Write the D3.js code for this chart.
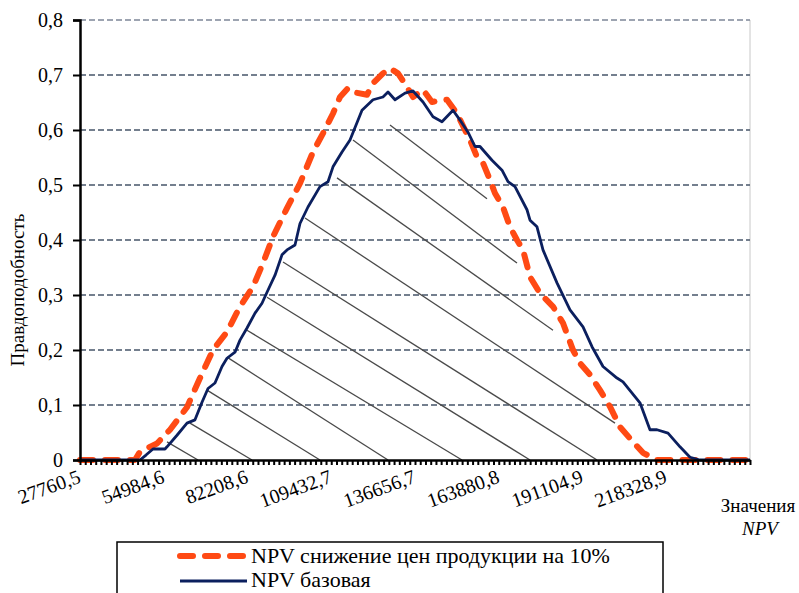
<!DOCTYPE html>
<html>
<head>
<meta charset="utf-8">
<script src="https://cdn.jsdelivr.net/npm/d3@7"></script>
<style>
  body { margin: 0; background: #fff; }
  svg text { font-family: "Liberation Serif", "Times New Roman", "DejaVu Serif", serif; }
</style>
</head>
<body>
<svg id="svg"></svg>
<script>
const svgWidth = 799;
const svgHeight = 593;

// x tick labels (category axis, one label every 16 bins)
const tickValues = [27760.5, 54984.6, 82208.6, 109432.7, 136656.7, 163880.8, 191104.9, 218328.9];
const tickLabels = ["27760,5", "54984,6", "82208,6", "109432,7", "136656,7", "163880,8", "191104,9", "218328,9"];
const xMin = 27760.5;
const xMax = 245553;
const binCount = 128;

const yTicks = [0, 0.1, 0.2, 0.3, 0.4, 0.5, 0.6, 0.7, 0.8];

// NPV снижение цен продукции на 10%
const lowNpv = [27760, 45640, 47260, 52790, 57020, 62540, 66770, 70990, 75540, 79770, 84000, 87250, 90500, 95050, 99270, 103500, 106750, 110000, 112280, 114880, 116500, 121050, 123000, 126250, 128530, 131130, 134060, 136010, 139260, 142180, 147060, 150310, 152910, 154530, 156810, 158760, 161040, 162660, 165260, 167540, 169810, 171760, 174040, 177290, 181510, 184760, 188010, 190290, 193540, 196790, 200040, 203290, 207520, 210770, 215320, 245550];
const lowProb = [0, 0, 0.015, 0.03, 0.055, 0.096, 0.149, 0.2, 0.233, 0.279, 0.315, 0.358, 0.406, 0.458, 0.503, 0.56, 0.594, 0.63, 0.66, 0.676, 0.669, 0.664, 0.685, 0.703, 0.712, 0.703, 0.678, 0.66, 0.673, 0.651, 0.655, 0.63, 0.6, 0.582, 0.551, 0.54, 0.509, 0.485, 0.46, 0.424, 0.4, 0.382, 0.333, 0.303, 0.279, 0.249, 0.2, 0.176, 0.155, 0.127, 0.097, 0.06, 0.033, 0.013, 0, 0];

// NPV базовая
const baseNpv = [27760, 47260, 49215, 51490, 55390, 56040, 59290, 62540, 65140, 67420, 69370, 71640, 73920, 75540, 78140, 79770, 82050, 84650, 86920, 88550, 91150, 93420, 95050, 97650, 99270, 101870, 105770, 108380, 110000, 112930, 115530, 119430, 123000, 126250, 127880, 130150, 133400, 136010, 139260, 142510, 145430, 149010, 151280, 153880, 156160, 157780, 161690, 164940, 166890, 169160, 173060, 174040, 176310, 178260, 182810, 187040, 191270, 194190, 197770, 202320, 204270, 209790, 213040, 215320, 218900, 222800, 226050, 229300, 245550];
const baseProb = [0, 0, 0.009, 0.02, 0.02, 0.024, 0.045, 0.067, 0.073, 0.105, 0.13, 0.14, 0.17, 0.185, 0.196, 0.218, 0.24, 0.267, 0.285, 0.305, 0.336, 0.373, 0.382, 0.391, 0.43, 0.46, 0.497, 0.506, 0.533, 0.56, 0.582, 0.636, 0.655, 0.66, 0.669, 0.655, 0.667, 0.671, 0.651, 0.624, 0.615, 0.636, 0.618, 0.596, 0.57, 0.57, 0.545, 0.527, 0.506, 0.497, 0.455, 0.436, 0.424, 0.382, 0.322, 0.273, 0.242, 0.206, 0.17, 0.149, 0.142, 0.104, 0.055, 0.055, 0.049, 0.024, 0.005, 0, 0];

// hatch strokes over the area under the curve: [npvStart, probStart, npvEnd, probEnd]
const hatch = [
  [128530, 0.609, 160060, 0.475],
  [116500, 0.582, 169810, 0.358],
  [111300, 0.513, 181510, 0.236],
  [100900, 0.440, 201670, 0.067],
  [93750, 0.360, 195820, 0],
  [88550, 0.296, 174040, 0],
  [82050, 0.236, 151930, 0],
  [75540, 0.187, 127880, 0],
  [69040, 0.127, 105770, 0],
  [63520, 0.067, 83670, 0],
  [56040, 0.033, 66120, 0]
];

const legendItems = ["NPV снижение цен продукции на 10%", "NPV базовая"];

let svg = d3.select("#svg");
let chart, xScale, yScale;

const margin = { top: 20, right: 49, bottom: 133, left: 80 };
const chartWidth = svgWidth - margin.left - margin.right;
const chartHeight = svgHeight - margin.top - margin.bottom;

function initializeSVG() {
  svg.attr("width", svgWidth).attr("height", svgHeight);
  svg.selectAll("*").remove();

  chart = svg.append("g")
    .attr("transform", "translate(" + margin.left + "," + margin.top + ")");

  xScale = d3.scaleLinear().domain([xMin, xMax]).range([0, chartWidth]);
  yScale = d3.scaleLinear().domain([0, 0.8]).range([chartHeight, 0]);
}

function drawGrid() {
  // right border of the plot
  chart.append("line")
    .attr("x1", chartWidth).attr("x2", chartWidth)
    .attr("y1", 0).attr("y2", chartHeight)
    .attr("stroke", "#c8c8c8").attr("stroke-width", 1);

  chart.selectAll(".grid")
    .data(yTicks.slice(1))
    .join("line")
    .attr("class", "grid")
    .attr("x1", 0).attr("x2", chartWidth)
    .attr("y1", d => yScale(d)).attr("y2", d => yScale(d))
    .attr("stroke", d => d === 0.8 ? "#7d8798" : "#475569")
    .attr("stroke-width", 1.6)
    .attr("stroke-dasharray", "6 3");
}

function drawHatch() {
  chart.selectAll(".hatch")
    .data(hatch)
    .join("line")
    .attr("class", "hatch")
    .attr("x1", d => xScale(d[0])).attr("y1", d => yScale(d[1]))
    .attr("x2", d => xScale(d[2])).attr("y2", d => yScale(d[3]))
    .attr("stroke", "#4a4a4a")
    .attr("stroke-width", 1.3);
}

function drawAxes() {
  // y axis
  const yAxis = d3.axisLeft(yScale)
    .tickValues(yTicks)
    .tickSize(7)
    .tickFormat(d => d === 0 ? "0" : d3.format(".1f")(d).replace(".", ","));
  const gy = chart.append("g").call(yAxis);
  gy.select(".domain").attr("stroke", "#000").attr("stroke-width", 2.5);
  gy.selectAll(".tick line").attr("stroke", "#000").attr("stroke-width", 2);
  gy.selectAll(".tick text")
    .attr("x", -17)
    .attr("font-size", 20)
    .attr("fill", "#000");

  // x axis: a tick for each bin
  const binStep = (xMax - xMin) / binCount;
  const binEdges = d3.range(binCount + 1).map(i => xMin + i * binStep);
  const xAxis = d3.axisBottom(xScale)
    .tickValues(binEdges)
    .tickSize(5)
    .tickSizeOuter(0)
    .tickFormat("");
  const gx = chart.append("g")
    .attr("transform", "translate(0," + chartHeight + ")")
    .call(xAxis);
  gx.select(".domain").attr("stroke", "#000").attr("stroke-width", 2.5);
  gx.selectAll(".tick line").attr("stroke", "#000").attr("stroke-width", 2);

  chart.selectAll(".xlabel")
    .data(tickValues)
    .join("text")
    .attr("class", "xlabel")
    .attr("transform", (d, i) => "translate(" + (xScale(d) + 2) + "," + (chartHeight + 22) + ") rotate(-20)")
    .attr("text-anchor", "end")
    .attr("font-size", 20)
    .attr("fill", "#000")
    .text((d, i) => tickLabels[i]);

  // axis titles
  svg.append("text")
    .attr("transform", "translate(24,290) rotate(-90)")
    .attr("text-anchor", "middle")
    .attr("font-size", 19)
    .text("Правдоподобность");

  svg.append("text")
    .attr("x", 758).attr("y", 512)
    .attr("text-anchor", "middle")
    .attr("font-size", 19)
    .text("Значения");
  svg.append("text")
    .attr("x", 760).attr("y", 535)
    .attr("text-anchor", "middle")
    .attr("font-size", 19)
    .attr("font-style", "italic")
    .text("NPV");
}

function drawLines() {
  const line = d3.line()
    .x(d => xScale(d[0]))
    .y(d => yScale(d[1]));

  const lowData = lowNpv.map((v, i) => [v, lowProb[i]]);
  const baseData = baseNpv.map((v, i) => [v, baseProb[i]]);

  chart.append("path")
    .datum(lowData)
    .attr("d", line)
    .attr("fill", "none")
    .attr("stroke", "#ff4a14")
    .attr("stroke-width", 6)
    .attr("stroke-linecap", "round")
    .attr("stroke-linejoin", "round")
    .attr("stroke-dasharray", "13 12");

  chart.append("path")
    .datum(baseData)
    .attr("d", line)
    .attr("fill", "none")
    .attr("stroke", "#0b1f5e")
    .attr("stroke-width", 2.8)
    .attr("stroke-linejoin", "round");
}

function drawLegend() {
  const lg = svg.append("g");
  lg.append("rect")
    .attr("x", 117).attr("y", 542)
    .attr("width", 546).attr("height", 70)
    .attr("fill", "#fff")
    .attr("stroke", "#000")
    .attr("stroke-width", 1.5);

  lg.append("line")
    .attr("x1", 180).attr("x2", 244)
    .attr("y1", 556).attr("y2", 556)
    .attr("stroke", "#ff4a14").attr("stroke-width", 6)
    .attr("stroke-linecap", "round")
    .attr("stroke-dasharray", "13 12");
  lg.append("line")
    .attr("x1", 180).attr("x2", 247)
    .attr("y1", 581).attr("y2", 581)
    .attr("stroke", "#0b1f5e").attr("stroke-width", 2.8);

  lg.selectAll(".legtext")
    .data(legendItems)
    .join("text")
    .attr("class", "legtext")
    .attr("x", 251)
    .attr("y", (d, i) => 563 + i * 24)
    .attr("font-size", 22)
    .attr("fill", "#000")
    .text(d => d);
}

function initialize() {
  initializeSVG();
  drawGrid();
  drawHatch();
  drawLines();
  drawAxes();
  drawLegend();
}

initialize();
</script>
</body>
</html>
